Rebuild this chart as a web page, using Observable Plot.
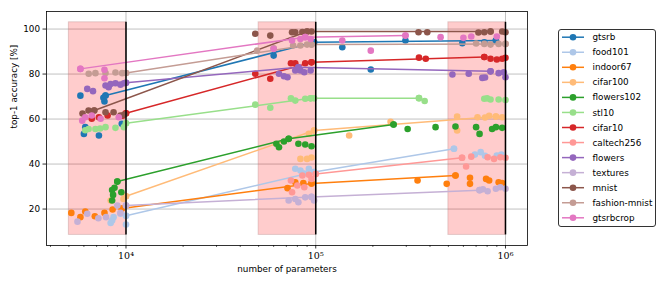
<!DOCTYPE html>
<html><head><meta charset="utf-8">
<script src="https://cdn.jsdelivr.net/npm/d3@7"></script>
<script src="https://cdn.jsdelivr.net/npm/@observablehq/plot@0.6"></script>
<style>
body{margin:0;background:#fff;}
#wrap{position:relative;width:664px;height:284px;font-family:"DejaVu Sans",sans-serif;}
#legend{position:absolute;left:558px;top:29px;width:98px;height:198px;border:1px solid #333;border-radius:3px;box-sizing:border-box;background:#fff;}
</style></head><body><div id="wrap"><div id="chart"></div><div id="legend"></div></div>
<script>
const names = ["gtsrb","food101","indoor67","cifar100","flowers102","stl10","cifar10","caltech256","flowers","textures","mnist","fashion-mnist","gtsrbcrop"];
const palette = ["#1f77b4","#aec7e8","#ff7f0e","#ffbb78","#2ca02c","#98df8a","#d62728","#ff9896","#9467bd","#c5b0d5","#8c564b","#c49c94","#e377c2"];

const majorTicks = [1e4, 1e5, 1e6];
const majorLabels = ["10⁴", "10⁵", "10⁶"];
const minorTicks = [4000,5000,6000,7000,8000,9000,20000,30000,40000,50000,60000,70000,80000,90000,200000,300000,400000,500000,600000,700000,800000,900000];
const yTicks = [20, 40, 60, 80, 100];
const regions = [[5000,10000],[50000,100000],[500000,1000000]];
const bandY = [8.5, 103];

const gtsrbRuns = [[5750,70.4],[7600,69.5],[7700,67.8],[6000,53.4],[7200,52.7],[6100,56.4],[9500,57.9],[7800,70.5],[60000,88.2],[95000,93.6],[98000,94.1],[138000,91.9],[195000,82.0],[297000,94.9],[592000,93.7],[773000,94.1],[890000,94.9]];
const gtsrbBest = [[7800,70.5],[98000,94.1],[890000,94.9]];
const food101Runs = [[8300,13.8],[8450,14.9],[8600,16.4],[9350,17.9],[10000,13.1],[10000,17.0],[78000,37.9],[83000,37.1],[87000,35.8],[92000,37.9],[98000,36.5],[535000,46.8],[690000,44.2],[740000,45.3],[780000,43.7],[900000,43.8],[950000,44.2]];
const food101Best = [[10000,17.0],[98000,36.5],[535000,46.8]];
const indoor67Runs = [[5150,18.3],[5750,16.4],[6100,18.9],[6850,16.8],[7700,18.3],[8500,19.8],[9500,20.2],[71000,29.3],[78000,31.9],[86000,31.6],[95000,31.4],[344000,32.7],[490000,31.2],[545000,34.9],[650000,33.9],[650000,31.2],[790000,33.4],[820000,32.7],[920000,31.9],[960000,31.6]];
const indoor67Best = [[9500,20.2],[95000,31.4],[545000,34.9]];
const cifar100Runs = [[8300,23.8],[9700,24.5],[10000,25.7],[83000,42.3],[90000,42.3],[95000,42.9],[92000,53.5],[98000,54.9],[150000,52.7],[248000,58.8],[556000,61.1],[556000,54.9],[712000,60.8],[780000,60.7],[820000,61.5],[890000,61.1],[960000,60.8]];
const cifar100Best = [[10000,25.7],[98000,54.9],[890000,61.1]];
const flowers102Runs = [[9000,32.2],[8450,28.5],[9450,27.5],[8450,23.8],[8700,29.5],[8550,26.3],[62000,49],[64000,47.5],[68000,50],[72000,51.2],[81000,49],[88000,48.7],[95000,47.9],[257000,57.6],[305000,55.6],[428000,56.4],[545000,56.7],[700000,56.4],[730000,53.4],[850000,55.6],[890000,56.4],[960000,56.1]];
const flowers102Best = [[9000,32.2],[72000,51.2],[257000,57.6]];
const stl10Runs = [[6100,55],[6350,55.6],[6900,55.6],[7300,55.8],[7800,56.4],[8800,56.1],[9750,56.4],[10000,58.1],[48000,66.4],[57600,65],[74000,69.2],[78000,68.2],[88000,69],[94000,69.2],[98000,69.2],[350000,69.3],[375000,68],[773000,69],[800000,69.2],[834000,68.7],[920000,68.7],[1000000,68.5]];
const stl10Best = [[10000,58.1],[94000,69.2],[350000,69.3]];
const cifar10Runs = [[6600,60.1],[7200,60.8],[8000,61.6],[9600,61.5],[10000,62.6],[48000,80.1],[57600,77.9],[74000,84.8],[78000,84.8],[88000,84.8],[95000,85.2],[350000,87.3],[380000,86.8],[773000,87.6],[834000,86.8],[900000,86.5],[961000,86.8],[1000000,87.2]];
const cifar10Best = [[10000,62.6],[95000,85.2],[773000,87.6]];
const caltech256Runs = [[74000,32.7],[75000,27.5],[80000,30.5],[85000,34.9],[87000,29.7],[92000,35.2],[95000,33.4],[100000,35.6],[590000,42.8],[620000,38.9],[660000,43.3],[805000,43],[870000,42.3],[940000,43],[1000000,42.8]];
const caltech256Best = [[100000,35.6],[590000,42.8]];
const flowersRuns = [[6250,73.4],[6700,72.4],[7800,74.9],[8100,74.1],[8300,75.6],[8800,75.9],[9350,75.3],[9750,75.9],[10000,76.1],[64000,80.1],[68000,79],[71000,78.6],[78000,81.6],[81000,83],[83000,81.6],[87000,80.8],[94000,81.6],[525000,79.8],[640000,80.1],[755000,78.3],[780000,78.5],[834000,81.2],[920000,80.4],[980000,80.8],[1000000,78.6]];
const flowersBest = [[10000,76.1],[81000,83],[834000,81.2]];
const texturesRuns = [[5550,14.4],[6250,17.9],[7150,15.9],[7850,16.4],[9000,21.6],[9350,18.3],[10000,21.6],[72000,23.8],[78000,24.5],[81000,23],[88000,25.2],[95000,25.4],[98000,23.8],[730000,28.4],[760000,28.8],[805000,27.9],[890000,29],[940000,29.7],[1000000,29]];
const texturesBest = [[10000,21.6],[95000,25.4],[730000,28.4]];
const mnistRuns = [[5900,62.5],[6350,63.8],[6800,63.8],[7800,63],[8600,63],[9350,61.6],[9800,62],[48000,97.9],[57600,97.1],[75000,98.6],[78000,98.6],[85000,98.7],[90000,98.9],[95000,98.9],[348000,98.6],[387000,98.6],[720000,98.5],[773000,98.6],[834000,98.9],[961000,98.9],[1000000,98.6]];
const mnistBest = [[6800,63.8],[90000,98.9],[834000,98.9]];
const fashionRuns = [[6360,80.1],[6900,80.4],[7800,80.5],[8800,80.7],[9550,80.4],[10000,80.5],[49000,90.4],[60000,91.5],[76000,92.7],[83000,92.7],[90000,93.1],[95000,93.1],[700000,93.6],[773000,93.4],[834000,93.1],[920000,93.4],[1000000,93.4]];
const fashionBest = [[10000,80.5],[95000,93.1],[1000000,93.4]];
const gtsrbcropRuns = [[5750,82.3],[5880,59.3],[6100,60.8],[6600,61.6],[7350,60.1],[7700,81.9],[7700,78.1],[9160,60.8],[60000,91.2],[75000,94.9],[83000,95.6],[88000,96.4],[94000,95.6],[138000,94.9],[195000,90.4],[297000,97.1],[455000,96.4],[600000,96.1],[660000,96.7],[900000,96.7]];
const gtsrbcropBest = [[5750,82.3],[88000,96.4],[297000,97.1]];

const allRuns = [gtsrbRuns,food101Runs,indoor67Runs,cifar100Runs,flowers102Runs,stl10Runs,cifar10Runs,caltech256Runs,flowersRuns,texturesRuns,mnistRuns,fashionRuns,gtsrbcropRuns];
const allBest = [gtsrbBest,food101Best,indoor67Best,cifar100Best,flowers102Best,stl10Best,cifar10Best,caltech256Best,flowersBest,texturesBest,mnistBest,fashionBest,gtsrbcropBest];

const seriesMarks = names.flatMap((n, i) => {
  const runs = allRuns[i].map(([x, y]) => ({name: n, x, y}));
  const best = allBest[i].map(([x, y]) => ({name: n, x, y}));
  return [
    Plot.dot(runs, {x: "x", y: "y", fill: "name", r: 3.3}),
    Plot.line(best, {x: "x", y: "y", stroke: "name", strokeWidth: 1.5}),
    Plot.dot(best, {x: "x", y: "y", fill: "name", r: 3.3})
  ];
});

const fmt = d => majorLabels[majorTicks.indexOf(d)];

const chart = Plot.plot({
  width: 664, height: 284,
  marginLeft: 46, marginRight: 137, marginTop: 11, marginBottom: 39,
  x: {type: "log", domain: [3811, 1.306e6], axis: null},
  y: {domain: [3.8, 107.8], axis: null},
  color: {domain: names, range: palette},
  style: {fontFamily: "DejaVu Sans", fontSize: "8.8px", color: "black", background: "white", overflow: "visible"},
  marks: [
    Plot.gridY(yTicks, {stroke: "#b0b0b0", strokeOpacity: 1, strokeWidth: 0.8}),
    Plot.gridX(majorTicks, {stroke: "#b0b0b0", strokeOpacity: 1, strokeWidth: 0.8}),
    Plot.rect(regions, {x1: d => d[0], x2: d => d[1], y1: () => bandY[0], y2: () => bandY[1], fill: "red", fillOpacity: 0.2, stroke: "#b08080", strokeOpacity: 0.35}),
    ...seriesMarks,
    Plot.ruleX(majorTicks, {y1: () => bandY[0], y2: () => bandY[1], stroke: "black", strokeWidth: 1.5}),
    Plot.axisX(minorTicks, {tickSize: 2, tickFormat: () => "", label: null, strokeWidth: 0.6}),
    Plot.axisX(majorTicks, {tickSize: 3.5, tickPadding: 3, tickFormat: fmt, label: null, fontFamily: "DejaVu Serif", fontSize: 9.5, strokeWidth: 0.8}),
    Plot.axisY(yTicks, {tickSize: 3.5, tickPadding: 3, label: null, strokeWidth: 0.8}),
    Plot.frame({stroke: "black", strokeWidth: 0.8}),
    Plot.text(["number of parameters"], {frameAnchor: "bottom", dy: 26, fontSize: 8.8}),
    Plot.text(["top-1 accuracy [%]"], {frameAnchor: "left", dx: -32, rotate: -90, fontSize: 8.8})
  ]
});
document.getElementById("chart").appendChild(chart);

// legend
const lg = d3.select("#legend").append("svg").attr("width", 96).attr("height", 196)
  .style("position", "absolute").style("left", "0px").style("top", "0px")
  .style("font-family", "DejaVu Sans").style("font-size", "8.8px");
names.forEach((n, i) => {
  const y = 7.2 + i * 15.05;
  const g = lg.append("g").attr("transform", `translate(0,${y})`);
  g.append("line").attr("x1", 3).attr("x2", 25).attr("y1", 0).attr("y2", 0).attr("stroke", palette[i]).attr("stroke-width", 1.5);
  g.append("circle").attr("cx", 14).attr("cy", 0).attr("r", 3.3).attr("fill", palette[i]);
  g.append("text").attr("x", 33.5).attr("y", 0).attr("dy", "0.35em").attr("fill", "black").text(n);
});
</script>
</body></html>
